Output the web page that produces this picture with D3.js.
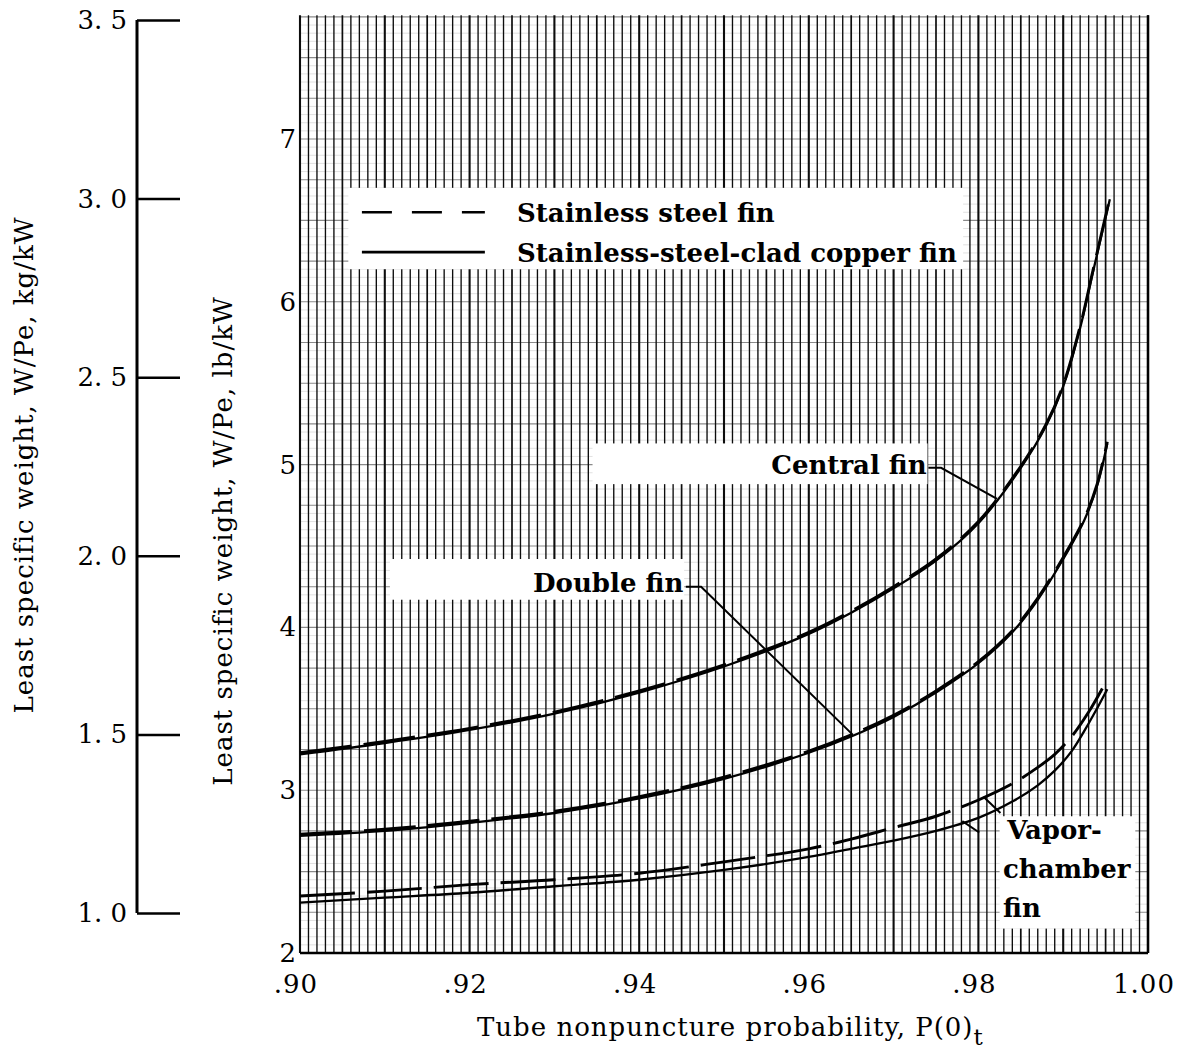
<!DOCTYPE html>
<html><head><meta charset="utf-8">
<script src="https://cdn.jsdelivr.net/npm/d3@7"></script>
<style>
html,body{margin:0;padding:0;background:#fff;}
svg{display:block;}
text{font-family:"DejaVu Serif",serif;fill:#000;}
</style></head>
<body>
<svg id="chart" width="1184" height="1051"></svg>
<script>
// ---------- data ----------
const xTicks = [0.90, 0.92, 0.94, 0.96, 0.98, 1.00];
const xTickLabels = [".90", ".92", ".94", ".96", ".98", "1.00"];
const yTicks = [2, 3, 4, 5, 6, 7];
const yTickLabels = ["2", "3", "4", "5", "6", "7"];
const kgTicks = [1.0, 1.5, 2.0, 2.5, 3.0, 3.5];
const kgTickLabels = ["1. 0", "1. 5", "2. 0", "2. 5", "3. 0", "3. 5"];

const centralP = [0.90,0.91,0.92,0.93,0.94,0.95,0.96,0.965,0.97,0.975,0.98,0.985,0.988,0.990,0.992,0.9935,0.9955];
const centralClad  = [3.22,3.29,3.37,3.47,3.60,3.76,3.96,4.09,4.24,4.41,4.64,4.98,5.24,5.48,5.84,6.18,6.63];
const centralSteel = [3.23,3.30,3.38,3.48,3.61,3.77,3.97,4.10,4.25,4.42,4.65,4.99,5.25,5.49,5.85,6.19,6.64];

const doubleP = [0.90,0.91,0.92,0.93,0.94,0.95,0.96,0.965,0.97,0.975,0.98,0.984,0.987,0.990,0.9925,0.994,0.9952];
const doubleClad  = [2.72,2.75,2.80,2.86,2.95,3.07,3.23,3.33,3.45,3.60,3.78,3.97,4.17,4.42,4.66,4.87,5.13];
const doubleSteel = [2.73,2.76,2.81,2.87,2.96,3.08,3.24,3.34,3.46,3.61,3.79,3.98,4.18,4.43,4.67,4.88,5.14];

const vaporP = [0.90,0.91,0.92,0.93,0.94,0.95,0.96,0.965,0.97,0.975,0.98,0.984,0.987,0.989,0.991,0.993,0.9952];
const vaporSteel = [2.35,2.38,2.42,2.45,2.49,2.56,2.64,2.70,2.77,2.84,2.94,3.04,3.14,3.22,3.33,3.48,3.68];
const vaporClad  = [2.31,2.34,2.37,2.41,2.45,2.51,2.59,2.64,2.69,2.75,2.83,2.93,3.03,3.12,3.24,3.41,3.62];

const legendLabels = ["Stainless steel fin", "Stainless-steel-clad copper fin"];
const xTitle = "Tube nonpuncture probability,  P(0)";
const yTitle = "Least specific weight,  W/Pe,  lb/kW";
const kgTitle = "Least specific weight,  W/Pe,  kg/kW";

// ---------- scales ----------
const svg = d3.select("#chart");
const x = d3.scaleLinear().domain([0.90, 1.00]).range([300, 1148]);
const y = d3.scaleLinear().domain([2, 7]).range([953, 139]);
const yKg = d3.scaleLinear().domain([1.0, 3.5]).range([913, 20]);
const yTop = 7.76;

// ---------- grid ----------
const grid = svg.append("g");
const vLines = d3.range(0, 101).map(i => 0.90 + i * 0.001);
const hMinor = d3.range(0, Math.round((yTop - 2) / 0.05) + 1).map(i => 2 + i * 0.05);
const isQuarter = d => Math.abs(d * 4 - Math.round(d * 4)) < 1e-6;
grid.selectAll("line.hm").data(hMinor).join("line")
  .attr("x1", x(0.90)).attr("x2", x(1.00))
  .attr("y1", d => y(d)).attr("y2", d => y(d))
  .attr("stroke", d => isQuarter(d) ? "#8a8a8a" : "#d9d9d9")
  .attr("stroke-width", d => isQuarter(d) ? 1.1 : 0.8);
grid.selectAll("line.v").data(vLines).join("line")
  .attr("x1", d => x(d)).attr("x2", d => x(d))
  .attr("y1", y(2)).attr("y2", y(yTop))
  .attr("stroke", "#0d0d0d")
  .attr("stroke-width", (d, i) => i % 10 === 0 ? 2.1 : (i % 5 === 0 ? 1.7 : 1.35));

// plot border (bottom & right heavy)
svg.append("line").attr("x1", x(0.90)).attr("x2", x(1.00)).attr("y1", y(2)).attr("y2", y(2))
  .attr("stroke", "#000").attr("stroke-width", 2.5);
svg.append("line").attr("x1", x(1.00)).attr("x2", x(1.00)).attr("y1", y(2)).attr("y2", y(yTop))
  .attr("stroke", "#000").attr("stroke-width", 2.5);

// ---------- white label boxes ----------
const boxes = [
  {x0: 0.9057, x1: 0.9782, y0: 6.70, y1: 6.20},   // legend
  {x0: 0.9345, x1: 0.9740, y0: 5.13, y1: 4.88},   // Central fin
  {x0: 0.9106, x1: 0.9453, y0: 4.42, y1: 4.17},   // Double fin
  {x0: 0.9825, x1: 0.9985, y0: 2.84, y1: 2.15}    // Vapor-chamber fin
];
svg.append("g").selectAll("rect").data(boxes).join("rect")
  .attr("x", d => x(d.x0)).attr("y", d => y(d.y0))
  .attr("width", d => x(d.x1) - x(d.x0)).attr("height", d => y(d.y1) - y(d.y0))
  .attr("fill", "#fff");

// ---------- curves ----------
const line = d3.line().x(d => x(d[0])).y(d => y(d[1])).curve(d3.curveCatmullRom.alpha(0.5));
const series = [
  {p: centralP, v: centralClad, dash: null},
  {p: centralP, v: centralSteel, dash: "52,12"},
  {p: doubleP, v: doubleClad, dash: null},
  {p: doubleP, v: doubleSteel, dash: "52,12"},
  {p: vaporP, v: vaporClad, dash: null},
  {p: vaporP, v: vaporSteel, dash: "55,12"}
];
svg.append("g").selectAll("path").data(series).join("path")
  .attr("d", s => line(s.p.map((p, i) => [p, s.v[i]])))
  .attr("fill", "none").attr("stroke", "#000")
  .attr("stroke-width", s => s.dash ? 2.9 : 2.3)
  .attr("stroke-dasharray", s => s.dash);

// ---------- leaders ----------
const leaders = [
  [[0.9741, 4.98], [0.9756, 4.98], [0.9822, 4.79]],   // Central fin
  [[0.9455, 4.25], [0.9473, 4.25], [0.9652, 3.34]],   // Double fin
  [[0.9826, 2.86], [0.9806, 2.96]],                   // Vapor (steel)
  [[0.9801, 2.74], [0.9781, 2.81]]                    // Vapor (clad)
];
const lline = d3.line().x(d => x(d[0])).y(d => y(d[1]));
svg.append("g").selectAll("path").data(leaders).join("path")
  .attr("d", d => lline(d)).attr("fill", "none").attr("stroke", "#000").attr("stroke-width", 2);

// ---------- labels ----------
const ann = svg.append("g").style("font-weight", "bold").style("font-size", "26px");
ann.append("text").attr("x", x(0.9739)).attr("y", y(4.94)).attr("text-anchor", "end").text("Central fin");
ann.append("text").attr("x", x(0.9452)).attr("y", y(4.22)).attr("text-anchor", "end").text("Double fin");
ann.append("text").attr("x", x(0.9834)).attr("y", y(2.70)).text("Vapor-");
ann.append("text").attr("x", x(0.9829)).attr("y", y(2.46)).text("chamber");
ann.append("text").attr("x", x(0.9829)).attr("y", y(2.22)).text("fin");

// legend
const lg = svg.append("g");
[0, 1].forEach(i => {
  const ly = y(6.55 - i * 0.245);
  lg.append("line").attr("x1", x(0.9073)).attr("x2", x(0.9218)).attr("y1", ly).attr("y2", ly)
    .attr("stroke", "#000").attr("stroke-width", 2.6)
    .attr("stroke-dasharray", i === 0 ? "30,20" : null);
  lg.append("text").attr("x", x(0.9256)).attr("y", ly + 10)
    .style("font-weight", "bold").style("font-size", "26px").text(legendLabels[i]);
});

// ---------- axes ----------
svg.append("g").selectAll("text").data(xTicks).join("text")
  .attr("x", d => x(d) - 4).attr("y", 993).attr("text-anchor", "middle")
  .style("font-size", "26px").style("letter-spacing", "1px")
  .text((d, i) => xTickLabels[i]);
svg.append("g").selectAll("text").data(yTicks).join("text")
  .attr("x", 296).attr("y", d => y(d) + 9).attr("text-anchor", "end")
  .style("font-size", "26px").text((d, i) => yTickLabels[i]);

// x title
const xt = svg.append("text").attr("x", 477).attr("y", 1036)
  .style("font-size", "26px").style("letter-spacing", "1px");
xt.append("tspan").text(xTitle);
xt.append("tspan").attr("dy", 9).style("font-size", "23px").text("t");

// lb title
svg.append("text").attr("transform", "translate(232,541) rotate(-90)")
  .attr("text-anchor", "middle").style("font-size", "26px").style("letter-spacing", "1px").text(yTitle);
// kg title
svg.append("text").attr("transform", "translate(33,465) rotate(-90)")
  .attr("text-anchor", "middle").style("font-size", "26px").style("letter-spacing", "1px").text(kgTitle);

// kg axis
const kgAxis = d3.axisRight(yKg).tickValues(kgTicks).tickSize(43).tickFormat("");
const kgG = svg.append("g").attr("transform", "translate(137,0)").call(kgAxis);
kgG.select(".domain").attr("stroke", "#000").attr("stroke-width", 3)
  .attr("d", `M0,${yKg(3.5)}V${yKg(1.0)}`);
kgG.selectAll(".tick line").attr("stroke", "#000").attr("stroke-width", 2.5);
svg.append("g").selectAll("text").data(kgTicks).join("text")
  .attr("x", 127).attr("y", d => yKg(d) + 9).attr("text-anchor", "end")
  .style("font-size", "26px").text((d, i) => kgTickLabels[i]);
</script>
</body></html>
